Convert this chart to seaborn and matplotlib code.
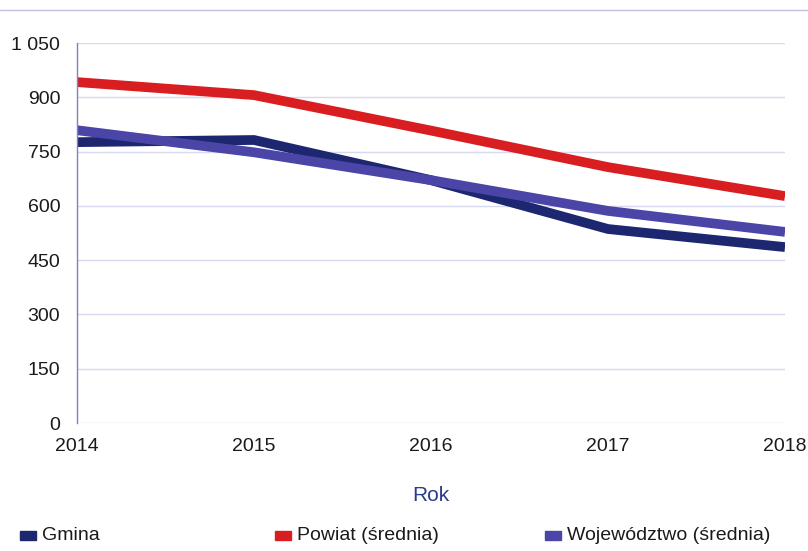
import matplotlib
matplotlib.use("Agg")
import matplotlib.pyplot as plt
import seaborn as sns
import pandas as pd
from matplotlib.ticker import FuncFormatter
from matplotlib.lines import Line2D
from matplotlib.patches import Rectangle

years = [2014, 2015, 2016, 2017, 2018]
gmina = [776, 782, 671, 536, 486]
powiat = [942, 906, 808, 707, 627]
wojewodztwo = [809, 748, 671, 586, 528]
series_names = ["Gmina", "Powiat (średnia)", "Województwo (średnia)"]
colors = ["#1c2770", "#d81e20", "#4a45a6"]

df = pd.DataFrame({"Rok": years * 3,
                   "val": gmina + powiat + wojewodztwo,
                   "seria": sum([[n] * len(years) for n in series_names], [])})

sns.set_style("white")
plt.rcParams['font.family'] = ['Liberation Sans', 'DejaVu Sans']

fig = plt.figure(figsize=(8.08, 5.51), dpi=100)
ax = fig.add_axes([77/808, 1 - 423/551, (785-77)/808, (423-43)/551])

sns.lineplot(data=df, x="Rok", y="val", hue="seria", palette=colors,
             linewidth=7, ax=ax, legend=False, sort=False)
for l in ax.lines:
    l.set_solid_capstyle("butt")
    l.set_solid_joinstyle("miter")

ax.set_xlim(2014, 2018)
ax.set_ylim(0, 1050)
yt = list(range(0, 1051, 150))
ax.set_yticks(yt)
ax.yaxis.set_major_formatter(FuncFormatter(lambda v, p: f"{int(v):,}".replace(",", " ")))
ax.set_xticks(years)
ax.grid(axis="y", color="#d8d8ee", linewidth=1)
ax.set_axisbelow(True)
for s in ["top", "right", "bottom"]:
    ax.spines[s].set_visible(False)
ax.spines["left"].set_color("#8080c0")
ax.spines["left"].set_linewidth(1)
ax.tick_params(axis="both", length=0, labelsize=14, colors="#1a1a1a")
ax.tick_params(axis="x", pad=11)
ax.tick_params(axis="y", pad=12)
ax.set_ylabel("")
ax.set_xlabel("Rok", fontsize=15, color="#2b3a8c", labelpad=22)

# top decorative line
fig.add_artist(Line2D([0, 1], [1 - 10/551, 1 - 10/551], color="#c0c0e0", linewidth=1))

# legend
leg_items = [(20, series_names[0], colors[0]), (275, series_names[1], colors[1]),
             (545, series_names[2], colors[2])]
for x, name, c in leg_items:
    fig.add_artist(Rectangle((x/808, 1 - 540/551), 16/808, 9/551, color=c,
                             transform=fig.transFigure))
    fig.text((x + 22)/808, 1 - 535/551, name, fontsize=14, va="center",
             ha="left", color="#1a1a1a")

fig.savefig("out.png", dpi=100)
